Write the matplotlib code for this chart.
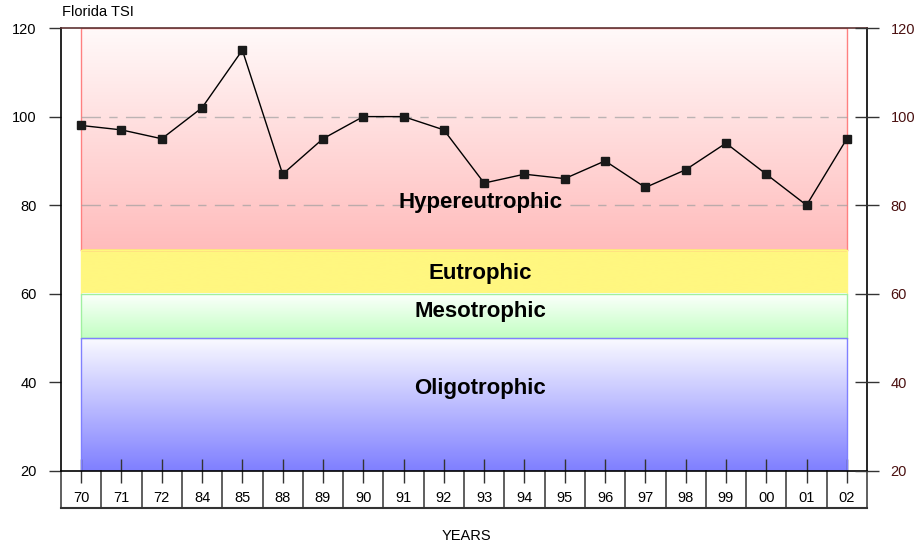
import matplotlib.pyplot as plt
import numpy as np
from matplotlib.colors import LinearSegmentedColormap

plt.rcParams['font.family'] = ['Liberation Sans', 'DejaVu Sans']

# Data
years = ['70', '71', '72', '84', '85', '88', '89', '90', '91', '92',
         '93', '94', '95', '96', '97', '98', '99', '00', '01', '02']
tsi = [98, 97, 95, 102, 115, 87, 95, 100, 100, 97,
       85, 87, 86, 90, 84, 88, 94, 87, 80, 95]

# Trophic bands
band_names = ['Hypereutrophic', 'Eutrophic', 'Mesotrophic', 'Oligotrophic']
band_low = [70, 60, 50, 20]
band_high = [120, 70, 60, 50]
band_top = ['#fffafa', '#fff780', '#fdfffd', '#fafaff']
band_bottom = ['#ffbcbc', '#fff780', '#c2ffc2', '#7f7fff']
band_edge = ['#ff8080', '#fff780', '#a0f0a0', '#8080ff']
label_y = [80.5, 64.5, 56.1, 38.6]

fig = plt.figure(figsize=(9.21, 5.48), dpi=100)
W, H = 921, 548
ax = fig.add_axes([61 / W, 1 - 471 / H, (867 - 61) / W, (471 - 28) / H])

n = len(years)
x = np.arange(n)
ax.set_xlim(-0.5, n - 0.5)
ax.set_ylim(20, 120)

# Gradient bands
for name, lo, hi, ctop, cbot, cedge, ly in zip(band_names, band_low, band_high,
                                               band_top, band_bottom, band_edge, label_y):
    cmap = LinearSegmentedColormap.from_list(name, [cbot, ctop])
    grad = np.linspace(0, 1, 256).reshape(-1, 1)
    ax.imshow(grad, cmap=cmap, origin='lower', aspect='auto',
              extent=[0, n - 1, lo, hi], zorder=1)
    ax.plot([0, 0, n - 1, n - 1], [lo, hi, hi, lo], color=cedge, lw=1, zorder=2)
    if name != 'Eutrophic':
        ax.plot([0, n - 1], [lo, lo], color=cedge, lw=1, zorder=2)
    ax.text(9.9, ly, name, ha='center', va='center', fontsize=16,
            fontweight='bold', color='black', zorder=5)

# Gridlines inside the bands
for gy in [80, 100]:
    ax.plot([0, n - 1], [gy, gy], color='#a0a0a0', lw=1, ls=(0, (14, 6, 6, 6)),
            alpha=0.7, zorder=3)

# Series
ax.plot(x, tsi, color='black', lw=1, marker='s', markersize=5.5,
        markerfacecolor='#1a1a1a', markeredgecolor='#1a1a1a', zorder=6)

# Spines
for s in ['left', 'right', 'bottom']:
    ax.spines[s].set_color('black')
    ax.spines[s].set_linewidth(1.2)
ax.spines['top'].set_color('#5e3434')
ax.spines['top'].set_linewidth(1.2)

# Axis ticks
ax.set_xticks(x)
ax.set_xticklabels(years)
ax.tick_params(axis='x', direction='inout', length=17, width=1, color='#333333',
               pad=6, labelsize=10.5)
ax.set_yticks(range(20, 121, 20))
ax.tick_params(axis='y', direction='out', length=8.6, width=1, color='#333333',
               pad=9, labelsize=10.5)

ax2 = ax.twinx()
ax2.set_ylim(20, 120)
ax2.set_yticks(range(20, 121, 20))
ax2.tick_params(axis='y', direction='inout', length=17, width=1, color='#333333',
                pad=8.5, labelsize=10.5, labelcolor='#4a1010')
for s in ax2.spines.values():
    s.set_visible(False)

# Table under x axis
tr = ax.get_xaxis_transform()
ybot = -37 / 443
for b in np.arange(-0.5, n, 1.0):
    ax.plot([b, b], [0, ybot], transform=tr, color='#444444', lw=1.2, clip_on=False)
ax.plot([-0.5, n - 0.5], [ybot, ybot], transform=tr, color='#333333', lw=1.5, clip_on=False)

fig.text(62 / W, 1 - 12 / H, 'Florida TSI', ha='left', va='center', fontsize=10.5)
fig.text(466 / W, 1 - 536 / H, 'YEARS', ha='center', va='center', fontsize=10.5)

fig.savefig('out.png', dpi=100)
